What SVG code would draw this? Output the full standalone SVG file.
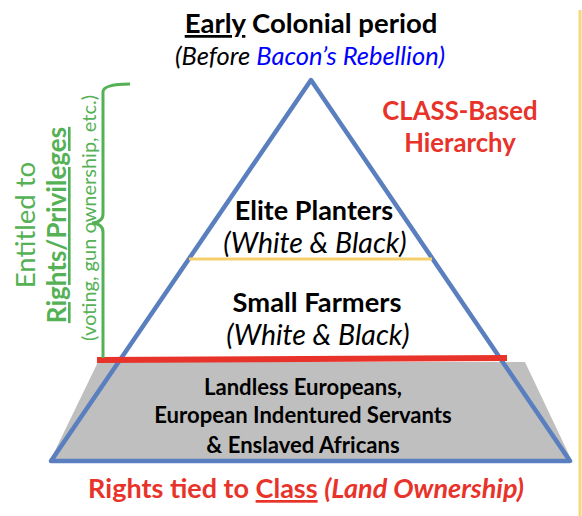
<svg xmlns="http://www.w3.org/2000/svg" width="582" height="516" viewBox="0 0 582 516">
<style>
text{font-family:Lato,"Liberation Sans",sans-serif}
.b{font-weight:bold}
.i{font-style:italic}
.red{fill:#E8332A}
.grn{fill:#55B155}
.ctr{text-anchor:middle}
</style>
<rect width="582" height="516" fill="#ffffff"/>
<line x1="580" y1="10" x2="580" y2="516" stroke="#F7D77C" stroke-width="3"/>
<g id="title">
<text x="311" y="33" class="b ctr" font-size="27.5"><tspan text-decoration="underline">Early</tspan> Colonial period</text>
<text x="310" y="65" class="i ctr" font-size="25.5">(Before <tspan fill="#0000FF">Bacon’s Rebellion)</tspan></text>
</g>
<g id="label-class">
<text x="460" y="120" class="b ctr red" font-size="25.7">CLASS-Based</text>
<text x="460" y="152" class="b ctr red" font-size="25.7">Hierarchy</text>
</g>
<g id="bottom-tier">
<polygon points="98,362 525,362 572,461 50,461" fill="#BFBFBF"/>
</g>
<g id="pyramid">
<polygon points="311,80 570,461 51,461" fill="none" stroke="#5A7FBE" stroke-width="4.5" stroke-linejoin="round"/>
</g>
<g id="connectors">
<line x1="189" y1="259" x2="432" y2="259" stroke="#F5CF6C" stroke-width="3"/>
<line x1="97" y1="360" x2="507" y2="358" stroke="#E8332A" stroke-width="6"/>
<path d="M130,84 Q103,84 103,92 L103,214 Q103,222 92,223 Q103,224 103,232 L103,358" fill="none" stroke="#55B155" stroke-width="3"/>
</g>
<g id="elite">
<text x="314" y="220" class="b ctr" font-size="27">Elite Planters</text>
<text x="315" y="253" class="i ctr" font-size="28.5">(White &amp; Black)</text>
</g>
<g id="small">
<text x="317" y="312" class="b ctr" font-size="27.3">Small Farmers</text>
<text x="318" y="345" class="i ctr" font-size="28.5">(White &amp; Black)</text>
</g>
<g id="landless">
<text x="303" y="395" class="b ctr" font-size="22.1">Landless Europeans,</text>
<text x="303" y="423" class="b ctr" font-size="22.1">European Indentured Servants</text>
<text x="303" y="453" class="b ctr" font-size="22.1">&amp; Enslaved Africans</text>
</g>
<g id="rights-note">
<text x="306" y="498" class="b ctr red" font-size="27">Rights tied to <tspan text-decoration="underline">Class</tspan> <tspan class="i">(Land Ownership)</tspan></text>
</g>
<g id="entitled">
<text transform="translate(35,225) rotate(-90)" class="ctr grn" font-size="27.5">Entitled to</text>
<text transform="translate(66,225) rotate(-90)" class="b ctr grn" font-size="26" text-decoration="underline">Rights/Privileges</text>
<text transform="translate(96,218) rotate(-90)" class="ctr grn" font-size="20">(voting, gun ownership, etc.)</text>
</g>
</svg>
